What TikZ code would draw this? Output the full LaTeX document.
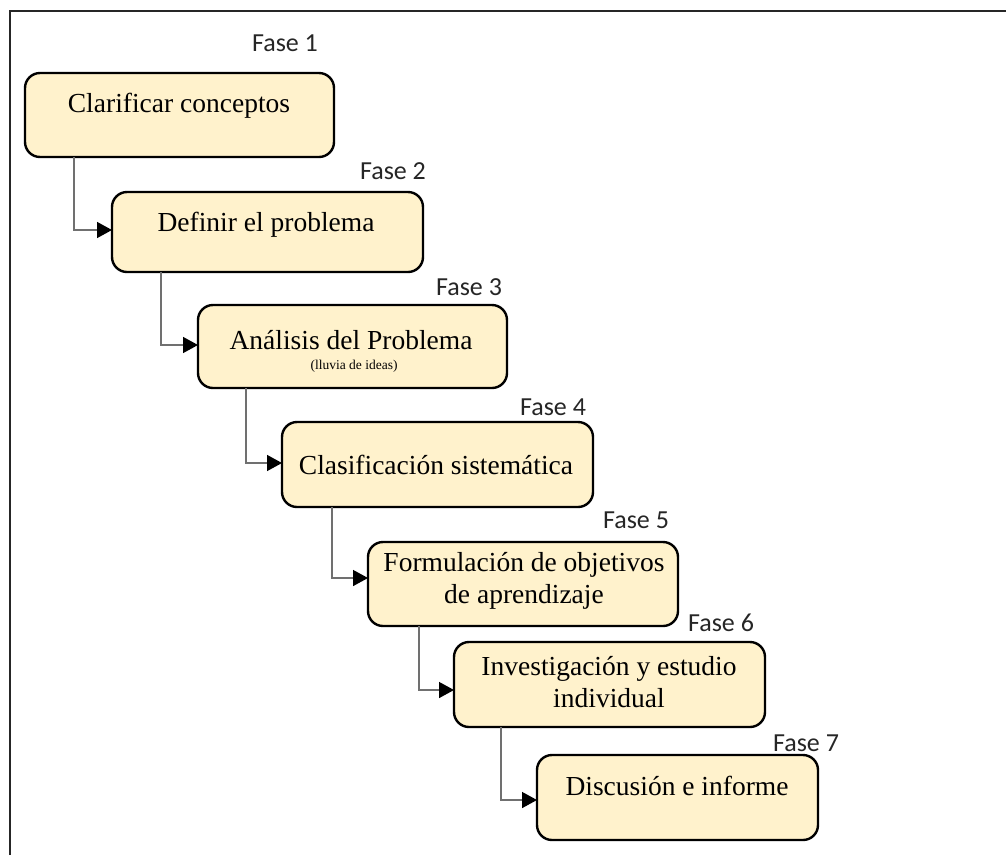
\documentclass[tikz,border=0pt]{standalone}
\usepackage{fontspec}
\setmainfont{Liberation Serif}
\newfontfamily\fasefont{Carlito}
\usetikzlibrary{arrows.meta}
\definecolor{boxfill}{HTML}{FFF2CC}
\definecolor{connc}{HTML}{707070}
\begin{document}
\begin{tikzpicture}[x=1pt,y=-1pt,
  phasebox/.style={draw=black, line width=2.4pt, fill=boxfill, rounded corners=15pt,
    anchor=north west, inner sep=0pt, outer sep=0pt},
  boxtext/.style={font=\fontsize{27.5}{32}\selectfont, align=center, inner sep=0pt},
  subtext/.style={font=\fontsize{13.5}{16}\selectfont, inner sep=0pt},
  faselabel/.style={font=\fasefont\fontsize{26}{30}\selectfont, text=black!85, inner sep=0pt},
  conn/.style={draw=connc, line width=1.5pt, -{Triangle[length=15pt,width=16pt,color=black]}},
  frameline/.style={draw=black!85, line width=2pt}
]
\useasboundingbox (0,0) rectangle (1006,855);
\draw[frameline] (10,855) -- (10,11) -- (1006,11);

% boxes
\node[phasebox, minimum width=309pt, minimum height=84pt] (b1) at (25,73) {};
\node[phasebox, minimum width=311pt, minimum height=80pt] (b2) at (112,192) {};
\node[phasebox, minimum width=309pt, minimum height=83pt] (b3) at (198,305) {};
\node[phasebox, minimum width=311pt, minimum height=85pt] (b4) at (282,422) {};
\node[phasebox, minimum width=310pt, minimum height=84pt] (b5) at (368,542) {};
\node[phasebox, minimum width=311pt, minimum height=85pt] (b6) at (454,642) {};
\node[phasebox, minimum width=281pt, minimum height=85pt] (b7) at (537,755) {};

% texts
\node[boxtext] (t1) at (179,106) {Clarificar conceptos};
\node[boxtext] (t2) at (266,225) {Definir el problema};
\node[boxtext] (t3) at (351,340) {Análisis del Problema};
\node[subtext] (s3) at (354,366) {(lluvia de ideas)};
\node[boxtext] (t4) at (436,465) {Clasificación sistemática};
\node[boxtext] (t5) at (524,581) {Formulación de objetivos\\de aprendizaje};
\node[boxtext] (t6) at (609,682) {Investigación y estudio\\individual};
\node[boxtext] (t7) at (677,786) {Discusión e informe};

% phase labels
\node[faselabel] (f1) at (285,43) {Fase 1};
\node[faselabel] (f2) at (393,171) {Fase 2};
\node[faselabel] (f3) at (469,287) {Fase 3};
\node[faselabel] (f4) at (553,407) {Fase 4};
\node[faselabel] (f5) at (636,520) {Fase 5};
\node[faselabel] (f6) at (721,623) {Fase 6};
\node[faselabel] (f7) at (806,743) {Fase 7};

% connectors
\draw[conn] ([xshift=49pt]b1.south west) |- ([yshift=-38pt]b2.north west);
\draw[conn] ([xshift=49pt]b2.south west) |- ([yshift=-40pt]b3.north west);
\draw[conn] ([xshift=48pt]b3.south west) |- ([yshift=-41pt]b4.north west);
\draw[conn] ([xshift=50pt]b4.south west) |- ([yshift=-36pt]b5.north west);
\draw[conn] ([xshift=51pt]b5.south west) |- ([yshift=-48pt]b6.north west);
\draw[conn] ([xshift=47pt]b6.south west) |- ([yshift=-45pt]b7.north west);
\end{tikzpicture}
\end{document}
